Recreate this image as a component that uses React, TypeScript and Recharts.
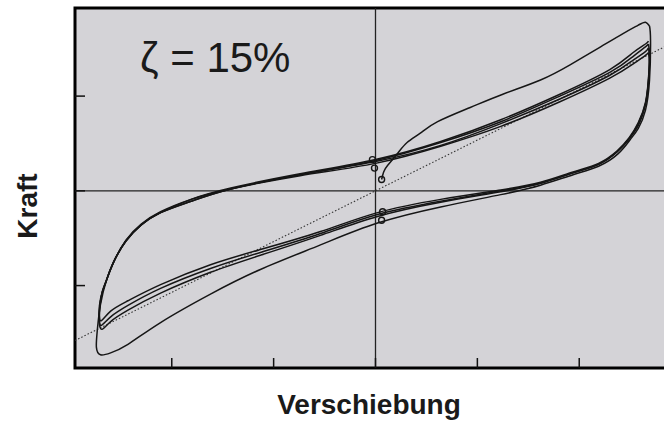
import React from "react";
import {
  ComposedChart,
  CartesianGrid,
  Line,
  ReferenceArea,
  ReferenceLine,
  Scatter,
  XAxis,
  YAxis,
} from "recharts";

// units: one axis tick = 1
type Pt = [number, number];

const X_TICKS = [-2, -1, 0, 1, 2];
const Y_TICKS = [-1, 0, 1];
const X_DOMAIN: [number, number] = [-2.95, 2.95];
const Y_DOMAIN: [number, number] = [-1.87, 1.93];

const INITIAL: Pt[] = [
  [0.06, 0.12], [0.08, 0.2], [0.12, 0.27], [0.22, 0.4], [0.31, 0.51], [0.44, 0.61],
  [0.61, 0.73], [0.93, 0.88], [1.25, 1.02], [1.62, 1.17], [1.91, 1.33], [2.21, 1.52],
  [2.43, 1.66], [2.58, 1.75], [2.65, 1.78], [2.69, 1.74],
];

const CYCLE_1: Pt[] = [
  [2.69, 1.74], [2.7, 1.59], [2.69, 1.17], [2.65, 0.85], [2.58, 0.66], [2.5, 0.54],
  [2.38, 0.39], [2.19, 0.26], [1.94, 0.17], [1.62, 0.06], [1.23, -0.04], [0.64, -0.17],
  [0.02, -0.34], [-0.54, -0.57], [-1.13, -0.83], [-1.62, -1.09], [-2.11, -1.39],
  [-2.43, -1.62], [-2.6, -1.71], [-2.7, -1.73], [-2.74, -1.65], [-2.73, -1.46],
  [-2.7, -1.2], [-2.64, -0.94], [-2.57, -0.75], [-2.45, -0.52], [-2.3, -0.35],
  [-2.11, -0.22], [-1.81, -0.09], [-1.42, 0.02], [-0.74, 0.16], [0, 0.29],
  [0.64, 0.47], [1.23, 0.68], [1.81, 0.94], [2.3, 1.19], [2.53, 1.34], [2.65, 1.43],
  [2.68, 1.46],
];

const CYCLE_2: Pt[] = [
  [2.68, 1.46], [2.69, 1.36], [2.68, 1.15], [2.65, 0.91], [2.58, 0.69], [2.49, 0.55],
  [2.37, 0.41], [2.19, 0.28], [1.94, 0.19], [1.62, 0.08], [1.23, -0.01], [0.64, -0.12],
  [0.02, -0.27], [-0.54, -0.47], [-1.13, -0.68], [-1.62, -0.86], [-2.11, -1.08],
  [-2.43, -1.26], [-2.6, -1.38], [-2.68, -1.46], [-2.71, -1.41], [-2.71, -1.25],
  [-2.68, -1.06], [-2.64, -0.94], [-2.57, -0.75], [-2.45, -0.53], [-2.3, -0.36],
  [-2.11, -0.23], [-1.81, -0.11], [-1.42, 0.02], [-0.74, 0.17], [0, 0.31],
  [0.64, 0.48], [1.23, 0.71], [1.81, 0.97], [2.3, 1.22], [2.53, 1.38], [2.65, 1.47],
  [2.68, 1.51],
];

const CYCLE_3: Pt[] = [
  [2.68, 1.51], [2.69, 1.4], [2.68, 1.17], [2.65, 0.92], [2.58, 0.71], [2.49, 0.55],
  [2.37, 0.41], [2.19, 0.28], [1.94, 0.19], [1.62, 0.08], [1.23, 0], [0.64, -0.11],
  [0.02, -0.25], [-0.54, -0.45], [-1.13, -0.65], [-1.62, -0.82], [-2.11, -1.03],
  [-2.43, -1.21], [-2.6, -1.33], [-2.69, -1.42], [-2.71, -1.36], [-2.71, -1.21],
  [-2.68, -1.06], [-2.64, -0.94], [-2.57, -0.75], [-2.45, -0.53], [-2.3, -0.36],
  [-2.11, -0.23], [-1.81, -0.11], [-1.42, 0.02], [-0.74, 0.17], [0, 0.32],
  [0.64, 0.51], [1.23, 0.73], [1.81, 1.0], [2.3, 1.25], [2.53, 1.42], [2.65, 1.52],
  [2.68, 1.55],
];

const CYCLE_4: Pt[] = [
  [2.68, 1.55], [2.69, 1.43], [2.68, 1.19], [2.65, 0.93], [2.58, 0.72], [2.49, 0.56],
  [2.37, 0.42], [2.19, 0.29], [1.94, 0.2], [1.62, 0.09], [1.23, 0.01], [0.64, -0.09],
  [0.02, -0.23], [-0.54, -0.43], [-1.13, -0.62], [-1.62, -0.78], [-2.11, -0.99],
  [-2.43, -1.16], [-2.6, -1.27], [-2.69, -1.37], [-2.71, -1.31], [-2.7, -1.17],
  [-2.68, -1.06], [-2.64, -0.94], [-2.57, -0.75], [-2.45, -0.53], [-2.3, -0.36],
  [-2.11, -0.23], [-1.81, -0.09], [-1.42, 0.03], [-0.74, 0.18], [0, 0.33],
  [0.64, 0.52], [1.23, 0.75], [1.81, 1.02], [2.3, 1.28], [2.53, 1.46], [2.65, 1.55],
  [2.68, 1.58],
];

// secant stiffness line through the origin
const DIAGONAL: Pt[] = [
  [-2.95, -1.58],
  [2.95, 1.58],
];

// little "o" marks at the turning points near zero displacement
const MARKS: Pt[] = [
  [-0.03, 0.33], [-0.01, 0.24], [0.06, 0.12], [0.07, -0.22], [0.06, -0.31],
];

const toRows = (pts: Pt[]) => pts.map(([x, y]) => ({ x, y }));

const LOOPS = [INITIAL, CYCLE_1, CYCLE_2, CYCLE_3, CYCLE_4];

const INK = "#161616";

const Ring = (props: any) => (
  <circle cx={props.cx} cy={props.cy} r={3} fill="none" stroke={INK} strokeWidth={1.4} />
);

const blank = () => "";

export default function App() {
  return (
    <div
      style={{
        position: "absolute",
        left: 0,
        top: 0,
        width: 664,
        height: 422,
        overflow: "hidden",
        background: "#fff",
        fontFamily: "'Liberation Sans', Arial, sans-serif",
        color: "#1a1a1a",
      }}
    >
      <ComposedChart width={700} height={422} margin={{ top: 8, right: 24, bottom: 54, left: 75 }}>
        <CartesianGrid fill="#d4d3d7" horizontal={false} vertical={false} />
        <XAxis
          type="number"
          dataKey="x"
          domain={X_DOMAIN}
          ticks={X_TICKS}
          allowDataOverflow
          mirror
          tickFormatter={blank}
          axisLine={false}
          tickSize={10}
          tickLine={{ stroke: "#111", strokeWidth: 1.5 }}
        />
        <YAxis
          type="number"
          dataKey="y"
          domain={Y_DOMAIN}
          ticks={Y_TICKS}
          allowDataOverflow
          mirror
          tickFormatter={blank}
          axisLine={false}
          tickSize={10}
          tickLine={{ stroke: "#111", strokeWidth: 1.5 }}
        />
        <ReferenceLine x={0} stroke="#222" strokeWidth={1.3} />
        <ReferenceLine y={0} stroke="#222" strokeWidth={1.3} />
        <Line
          data={toRows(DIAGONAL)}
          dataKey="y"
          type="linear"
          stroke="#333"
          strokeWidth={1.1}
          strokeDasharray="1.5 2"
          dot={false}
          activeDot={false}
          isAnimationActive={false}
        />
        {LOOPS.map((loop, i) => (
          <Line
            key={i}
            data={toRows(loop)}
            dataKey="y"
            type="natural"
            stroke={INK}
            strokeWidth={1.5}
            dot={false}
            activeDot={false}
            isAnimationActive={false}
          />
        ))}
        <Scatter data={toRows(MARKS)} dataKey="y" shape={Ring} isAnimationActive={false} />
        <ReferenceArea
          x1={X_DOMAIN[0]}
          x2={X_DOMAIN[1]}
          y1={Y_DOMAIN[0]}
          y2={Y_DOMAIN[1]}
          fill="none"
          stroke="#000"
          strokeWidth={3}
        />
      </ComposedChart>

      <div
        style={{
          position: "absolute",
          left: 140,
          top: 37,
          fontSize: 42,
          lineHeight: "42px",
          whiteSpace: "nowrap",
        }}
      >
        ζ = 15%
      </div>
      <div
        style={{
          position: "absolute",
          left: 219,
          top: 391,
          width: 300,
          textAlign: "center",
          fontSize: 28,
          lineHeight: "28px",
          fontWeight: "bold",
        }}
      >
        Verschiebung
      </div>
      <div
        style={{
          position: "absolute",
          left: -22,
          top: 192,
          width: 100,
          height: 28,
          textAlign: "center",
          fontSize: 28,
          lineHeight: "28px",
          fontWeight: "bold",
          transform: "rotate(-90deg)",
        }}
      >
        Kraft
      </div>
    </div>
  );
}
